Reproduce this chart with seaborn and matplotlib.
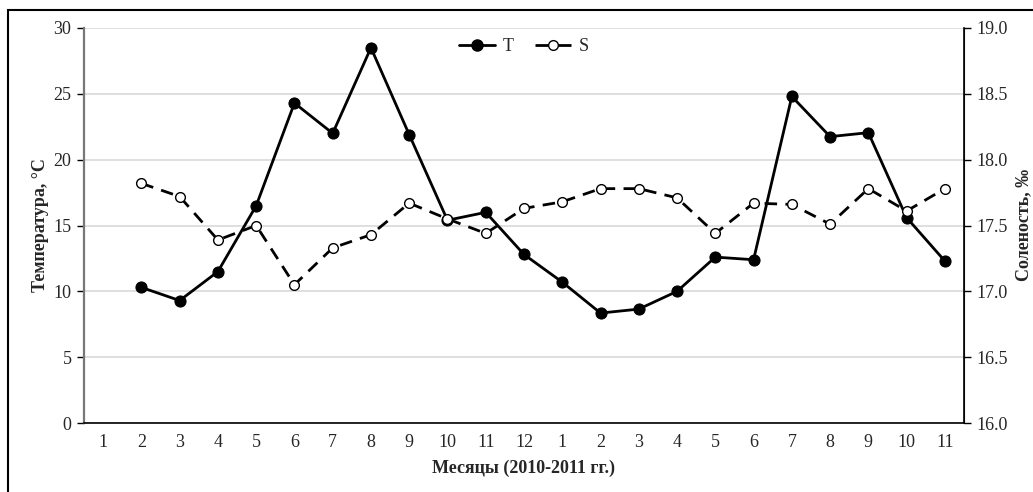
import numpy as np
import pandas as pd
import matplotlib
matplotlib.use("Agg")
import matplotlib.pyplot as plt
from matplotlib.lines import Line2D
from matplotlib.patches import Rectangle
import seaborn as sns

# Months Jan 2010 .. Nov 2011
months = ["1", "2", "3", "4", "5", "6", "7", "8", "9", "10", "11", "12",
          "1", "2", "3", "4", "5", "6", "7", "8", "9", "10", "11"]
temperature = [np.nan, 10.3, 9.3, 11.5, 16.5, 24.3, 22.0, 28.5, 21.9, 15.4, 16.0, 12.8,
               10.7, 8.35, 8.65, 10.0, 12.6, 12.4, 24.8, 21.75, 22.05, 15.6, 12.3]
salinity = [np.nan, 17.82, 17.72, 17.39, 17.50, 17.05, 17.33, 17.43, 17.67, 17.55, 17.44, 17.63,
            17.68, 17.78, 17.78, 17.71, 17.44, 17.67, 17.66, 17.51, 17.78, 17.61, 17.78]

df = pd.DataFrame({"pos": np.arange(len(months)), "T": temperature, "S": salinity})

sns.set_style("white")
plt.rcParams["font.family"] = ["Liberation Serif", "DejaVu Serif"]
plt.rcParams["font.size"] = 13

S_DASHES = (4.5, 3.0)

fig = plt.figure(figsize=(10.33, 4.92), dpi=100)
ax = fig.add_axes([84 / 1033, 1 - 423 / 492, 880 / 1033, 395 / 492])
ax2 = ax.twinx()

sns.lineplot(data=df, x="pos", y="T", ax=ax, color="black", linewidth=2.0,
             marker="o", markersize=8, markerfacecolor="black",
             markeredgecolor="black", legend=False)
sns.lineplot(data=df, x="pos", y="S", ax=ax2, color="black", linewidth=2.0,
             marker="o", markersize=7, markerfacecolor="white",
             markeredgecolor="black", markeredgewidth=1.0, legend=False)
ax2.lines[0].set_dashes(S_DASHES)

ax.set_xlim(-0.5, len(months) - 0.5)
ax.set_ylim(0, 30)
ax.set_yticks(np.arange(0, 31, 5))
ax2.set_ylim(16, 19)
ax2.set_yticks(np.arange(16, 19.01, 0.5))
ax2.set_yticklabels([f"{v:.1f}" for v in np.arange(16, 19.01, 0.5)])

ax.set_xticks(np.arange(len(months)))
ax.set_xticklabels(months)
ax.set_xticks(np.arange(-0.5, len(months), 1), minor=True)
ax.tick_params(axis="x", which="major", length=0, pad=8, labelsize=13)
ax.tick_params(axis="x", which="minor", length=5, width=1, color="black", direction="out")
ax.tick_params(axis="y", length=5, width=1, color="black", direction="out", pad=4, labelsize=13)
ax2.tick_params(axis="y", length=5, width=1, color="black", direction="out", pad=4, labelsize=13)

ax.grid(axis="y", color="#d9d9d9", linewidth=1.2)
ax.set_axisbelow(True)

for a in (ax, ax2):
    a.spines["top"].set_visible(False)
ax.spines["left"].set_color("#777777")
ax.spines["left"].set_linewidth(1.6)
ax.spines["bottom"].set_color("black")
ax.spines["bottom"].set_linewidth(1.2)
ax2.spines["right"].set_color("black")
ax2.spines["right"].set_linewidth(1.2)
ax2.spines["left"].set_visible(False)
ax2.spines["bottom"].set_visible(False)

ax.set_xlabel("Месяцы (2010-2011 гг.)", fontsize=13, fontweight="bold", labelpad=6)
ax.set_ylabel("Температура, °С", fontsize=13, fontweight="bold", labelpad=3)
ax2.set_ylabel("")
fig.text(1015 / 1033, 1 - 225 / 492, "Соленость, ‰", rotation=90, fontsize=13,
         fontweight="bold", ha="left", va="center")

handles = [
    Line2D([], [], color="black", linewidth=2.0, marker="o", markersize=8,
           markerfacecolor="black", markeredgecolor="black"),
    Line2D([], [], color="black", linewidth=2.0, marker="o", markersize=7,
           markerfacecolor="white", markeredgecolor="black", dashes=(4.7, 3.6)),
]
ax.legend(handles, ["T", "S"], loc="upper center", bbox_to_anchor=(0.5, 1.015),
          ncol=2, frameon=False, fontsize=13, handlelength=2.0,
          columnspacing=1.2, handletextpad=0.4)

# outer frame around the figure
fig.patches.append(Rectangle((8 / 1033, -0.05), 1.2, 1 - 10 / 492 + 0.05,
                             transform=fig.transFigure, fill=False,
                             edgecolor="black", linewidth=1.5))

fig.savefig("out.png", dpi=100)
